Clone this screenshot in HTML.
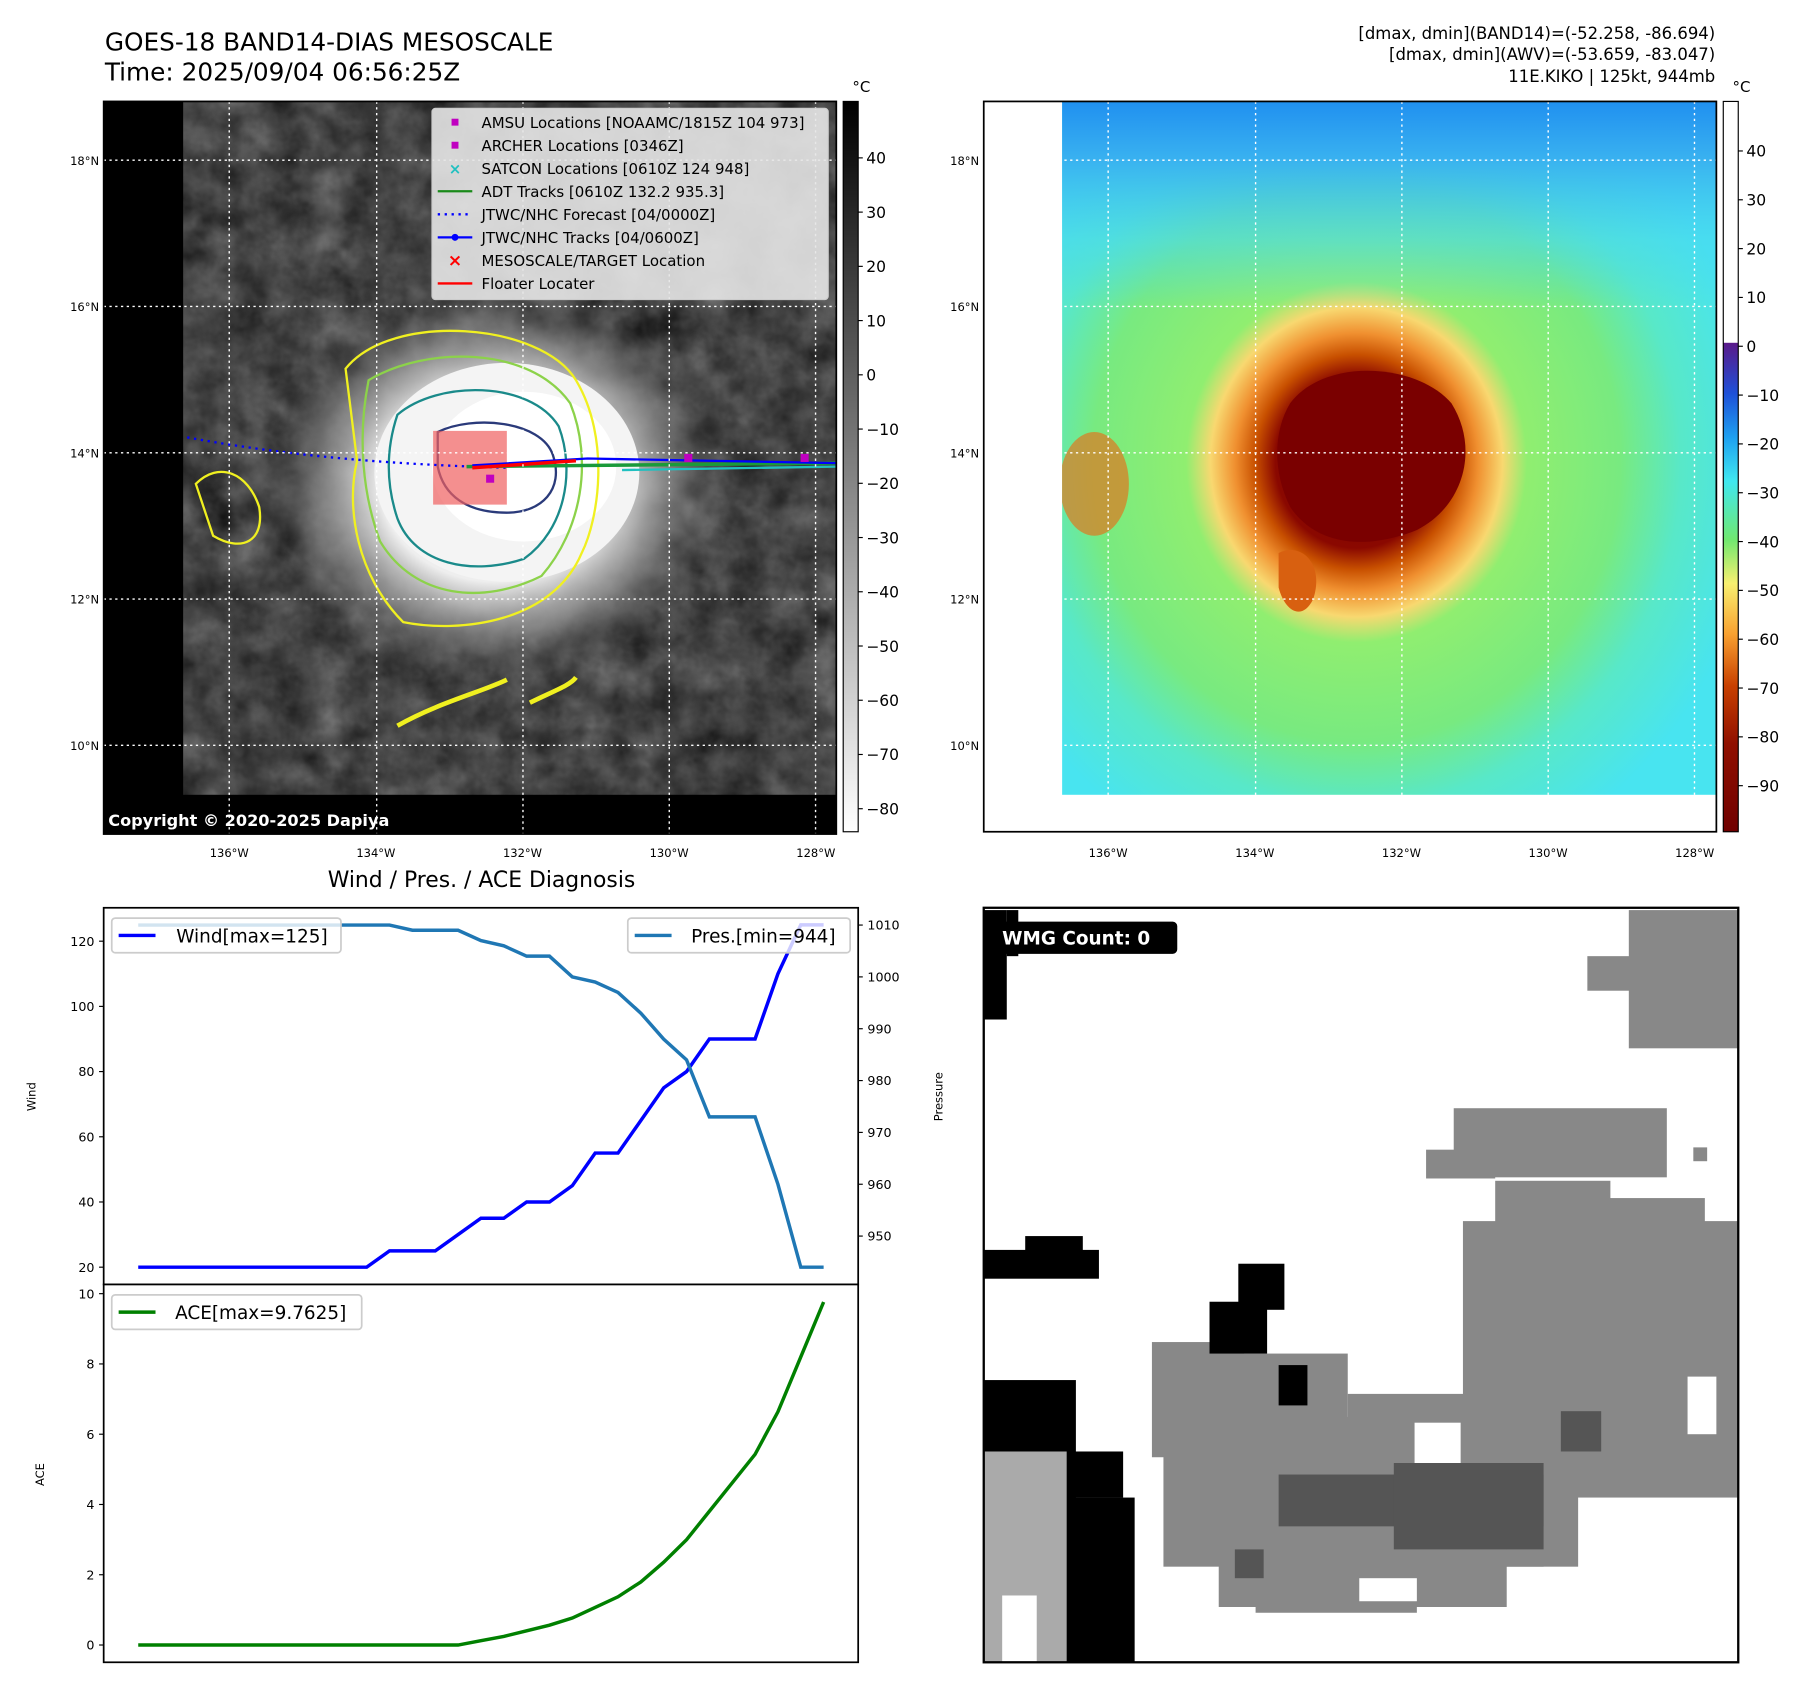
<!DOCTYPE html>
<html><head><meta charset="utf-8"><style>
html,body{margin:0;padding:0;background:#fff;}
svg{display:block;font-family:"DejaVu Sans","Liberation Sans",sans-serif;}
</style></head><body>
<svg id="root" width="1797" height="1690" viewBox="0 0 1560 1467" xmlns="http://www.w3.org/2000/svg">
<defs>
<filter id="clouds" x="0" y="0" width="1" height="1" color-interpolation-filters="sRGB">
<feTurbulence type="fractalNoise" baseFrequency="0.03" numOctaves="4" seed="3"/>
<feColorMatrix type="matrix" values="0.33 0.33 0.33 0 0  0.33 0.33 0.33 0 0  0.33 0.33 0.33 0 0  0 0 0 0 1"/>
<feComponentTransfer><feFuncR type="linear" slope="0.7" intercept="-0.08"/><feFuncG type="linear" slope="0.7" intercept="-0.08"/><feFuncB type="linear" slope="0.7" intercept="-0.08"/></feComponentTransfer>
</filter>
<radialGradient id="storm" cx="0.5" cy="0.5" r="0.5">
<stop offset="0" stop-color="#fff"/><stop offset="0.5" stop-color="#eee"/><stop offset="0.75" stop-color="#999" stop-opacity="0.7"/><stop offset="1" stop-color="#555" stop-opacity="0"/>
</radialGradient>
<linearGradient id="cbGray" x1="0" y1="0" x2="0" y2="1"><stop offset="0" stop-color="#000"/><stop offset="1" stop-color="#fff"/></linearGradient>
<linearGradient id="cbColor" x1="0" y1="0" x2="0" y2="1">
<stop offset="0" stop-color="#fff"/><stop offset="0.33" stop-color="#fff"/><stop offset="0.331" stop-color="#5a1a8a"/>
<stop offset="0.4" stop-color="#1e50d8"/><stop offset="0.46" stop-color="#1ea0f0"/><stop offset="0.52" stop-color="#40e8f0"/>
<stop offset="0.6" stop-color="#70e870"/><stop offset="0.66" stop-color="#f8f070"/><stop offset="0.73" stop-color="#f8a030"/>
<stop offset="0.8" stop-color="#c84000"/><stop offset="0.88" stop-color="#901000"/><stop offset="1" stop-color="#700000"/>
</linearGradient>
<radialGradient id="ir" cx="0.45" cy="0.52" r="0.62">
<stop offset="0" stop-color="#7a0000"/><stop offset="0.2" stop-color="#8a0800"/><stop offset="0.25" stop-color="#c85000"/>
<stop offset="0.3" stop-color="#f09030"/><stop offset="0.36" stop-color="#f8d870"/><stop offset="0.42" stop-color="#90ee70"/>
<stop offset="0.65" stop-color="#78ea80"/><stop offset="0.8" stop-color="#58e8c8"/><stop offset="1" stop-color="#48e4f0"/>
</radialGradient>
<linearGradient id="irTop" x1="0" y1="0" x2="0" y2="1"><stop offset="0" stop-color="#2090f0"/><stop offset="0.08" stop-color="#38b0f0"/><stop offset="0.2" stop-color="#48d8f0" stop-opacity="0.6"/><stop offset="0.3" stop-color="#48d8f0" stop-opacity="0"/></linearGradient>
<clipPath id="clipL"><rect x="159" y="88" width="567" height="602"/></clipPath>
<clipPath id="clipR"><rect x="922" y="88" width="568" height="602"/></clipPath>
</defs>

<text x="91" y="44" font-size="21.5">GOES-18 BAND14-DIAS MESOSCALE</text>
<text x="91" y="70" font-size="21.5">Time: 2025/09/04 06:56:25Z</text>
<g font-size="14.3" text-anchor="end">
<text x="1489" y="34">[dmax, dmin](BAND14)=(-52.258, -86.694)</text>
<text x="1489" y="52">[dmax, dmin](AWV)=(-53.659, -83.047)</text>
<text x="1489" y="71">11E.KIKO | 125kt, 944mb</text>
</g>

<g>
<rect x="90" y="88" width="636" height="636" fill="#000"/>
<g clip-path="url(#clipL)">
<rect x="159" y="88" width="567" height="602" filter="url(#clouds)"/>
<ellipse cx="430" cy="420" rx="200" ry="170" fill="url(#storm)"/>
<ellipse cx="440" cy="410" rx="115" ry="95" fill="#f4f4f4"/>
<ellipse cx="455" cy="405" rx="80" ry="65" fill="#fff"/>
<g fill="none" stroke-width="2">
<path d="M300,320 C340,270 470,280 500,330 C530,380 520,450 505,480 C480,540 400,550 350,540 C310,500 300,440 310,400 Z" stroke="#f0f020"/>
<path d="M320,330 C370,300 460,300 495,350 C515,400 505,460 470,500 C420,525 360,520 330,470 C315,430 310,380 320,330 Z" stroke="#8cd24a"/>
<path d="M345,360 C380,330 460,330 485,370 C500,410 490,460 455,485 C410,500 360,490 345,450 C335,420 335,390 345,360 Z" stroke="#1a8a8a"/>
<path d="M380,375 C410,360 470,365 480,395 C490,425 470,445 440,445 C405,445 385,430 380,405 Z" stroke="#2a3a7a"/>
<path d="M170,420 C190,400 215,410 225,440 C230,470 210,480 185,465 Z" stroke="#f0f020"/>
<path d="M345,630 C380,610 420,600 440,590" stroke="#f0f020" stroke-width="4"/>
<path d="M460,610 C480,600 495,595 500,588" stroke="#f0f020" stroke-width="4"/>
</g>
<rect x="376" y="374" width="64" height="64" fill="#f06060" opacity="0.7"/>
<path d="M92,365 C200,390 300,402 440,406" stroke="#00f" stroke-width="2" stroke-dasharray="2,4" fill="none"/>
<path d="M405,405 L726,402" stroke="#1a9a3a" stroke-width="3" fill="none"/>
<path d="M540,408 L726,405" stroke="#20c0c0" stroke-width="2" fill="none"/>
<path d="M410,404 L510,398 L726,402" stroke="#00f" stroke-width="2" fill="none"/>
<path d="M410,406 L500,400" stroke="#f00" stroke-width="3" fill="none"/>
<g fill="#c000c0"><rect x="594" y="394" width="7" height="7"/><rect x="695" y="394" width="7" height="7"/><rect x="422" y="412" width="7" height="7"/></g>
</g>
<rect x="90" y="690" width="636" height="34" fill="#000"/>
<g stroke="#fff" stroke-width="1.2" stroke-dasharray="2,3">
<line x1="199" y1="88" x2="199" y2="724"/><line x1="327" y1="88" x2="327" y2="724"/><line x1="454" y1="88" x2="454" y2="724"/><line x1="581" y1="88" x2="581" y2="724"/><line x1="708" y1="88" x2="708" y2="724"/>
<line x1="90" y1="139" x2="726" y2="139"/><line x1="90" y1="266" x2="726" y2="266"/><line x1="90" y1="393" x2="726" y2="393"/><line x1="90" y1="520" x2="726" y2="520"/><line x1="90" y1="647" x2="726" y2="647"/>
</g>
<rect x="90" y="88" width="636" height="636" fill="none" stroke="#000" stroke-width="1.5"/>
<text x="94" y="717" font-size="14" font-weight="bold" fill="#fff">Copyright © 2020-2025 Dapiya</text>
<g font-size="13">
<rect x="375" y="94" width="344" height="166" fill="#e6e6e6" fill-opacity="0.9" stroke="#ccc" rx="3"/>
<rect x="392" y="103" width="6" height="6" fill="#c000c0"/><text x="418" y="111">AMSU Locations [NOAAMC/1815Z 104 973]</text>
<rect x="392" y="123" width="6" height="6" fill="#c000c0"/><text x="418" y="131">ARCHER Locations [0346Z]</text>
<text x="395" y="151" fill="#20c0c0" text-anchor="middle" font-weight="bold">×</text><text x="418" y="151">SATCON Locations [0610Z 124 948]</text>
<line x1="380" y1="166" x2="410" y2="166" stroke="#1a8a1a" stroke-width="2"/><text x="418" y="171">ADT Tracks [0610Z 132.2 935.3]</text>
<line x1="380" y1="186" x2="410" y2="186" stroke="#00f" stroke-width="2" stroke-dasharray="2,4"/><text x="418" y="191">JTWC/NHC Forecast [04/0000Z]</text>
<line x1="380" y1="206" x2="410" y2="206" stroke="#00f" stroke-width="2"/><circle cx="395" cy="206" r="3" fill="#00f"/><text x="418" y="211">JTWC/NHC Tracks [04/0600Z]</text>
<text x="395" y="231" fill="#f00" text-anchor="middle" font-weight="bold" font-size="15">×</text><text x="418" y="231">MESOSCALE/TARGET Location</text>
<line x1="380" y1="246" x2="410" y2="246" stroke="#f00" stroke-width="2"/><text x="418" y="251">Floater Locater</text>
</g>
<rect x="732" y="88" width="13" height="634" fill="url(#cbGray)" stroke="#000"/>
<text x="740" y="80" font-size="13">°C</text>
<g id="cbLabels" font-size="13.5"></g>
</g>

<g>
<rect x="854" y="88" width="636" height="634" fill="#fff"/>
<g clip-path="url(#clipR)">
<rect x="922" y="88" width="568" height="602" fill="url(#ir)"/>
<rect x="922" y="88" width="568" height="602" fill="url(#irTop)"/>
<path d="M1120,350 C1150,310 1230,315 1260,350 C1285,390 1270,440 1230,460 C1180,480 1140,470 1120,440 C1105,410 1105,375 1120,350 Z" fill="#7a0000"/>
<path d="M1110,480 C1130,470 1150,490 1140,520 C1130,540 1115,530 1110,510 Z" fill="#d86010"/>
<ellipse cx="950" cy="420" rx="30" ry="45" fill="#e07820" opacity="0.7"/>
</g>
<g stroke="#fff" stroke-width="1.2" stroke-dasharray="2,3">
<line x1="962" y1="88" x2="962" y2="722"/><line x1="1090" y1="88" x2="1090" y2="722"/><line x1="1217" y1="88" x2="1217" y2="722"/><line x1="1344" y1="88" x2="1344" y2="722"/><line x1="1471" y1="88" x2="1471" y2="722"/>
<line x1="854" y1="139" x2="1490" y2="139"/><line x1="854" y1="266" x2="1490" y2="266"/><line x1="854" y1="393" x2="1490" y2="393"/><line x1="854" y1="520" x2="1490" y2="520"/><line x1="854" y1="647" x2="1490" y2="647"/>
</g>
<rect x="854" y="88" width="636" height="634" fill="none" stroke="#000" stroke-width="1.5"/>
<rect x="1496" y="88" width="13" height="634" fill="url(#cbColor)" stroke="#000"/>
<text x="1504" y="80" font-size="13">°C</text>
<g id="cbLabels2" font-size="13.5"></g>
</g>
<g id="mapTicks" font-size="10"></g>

<text x="418" y="770" font-size="19" text-anchor="middle">Wind / Pres. / ACE Diagnosis</text>
<g id="chart"></g>

<g>
<rect x="854" y="788" width="655" height="655" fill="#fff"/>
<g fill="#888">
<rect x="1414" y="790" width="95" height="120"/><rect x="1378" y="830" width="40" height="30"/>
<rect x="1238" y="998" width="60" height="25"/><rect x="1262" y="962" width="185" height="60"/><rect x="1470" y="996" width="12" height="12"/>
<rect x="1298" y="1025" width="100" height="80"/><rect x="1310" y="1040" width="170" height="130"/><rect x="1270" y="1060" width="239" height="240"/>
<rect x="1000" y="1165" width="80" height="100"/><rect x="1020" y="1175" width="150" height="180"/><rect x="1010" y="1230" width="330" height="130"/>
<rect x="1170" y="1210" width="200" height="150"/><rect x="1058" y="1340" width="250" height="55"/><rect x="1090" y="1350" width="140" height="50"/>
</g>
<g fill="#fff"><rect x="1465" y="1195" width="25" height="50"/><rect x="1228" y="1235" width="40" height="35"/><rect x="1180" y="1370" width="50" height="20"/></g>
<g fill="#555"><rect x="1110" y="1280" width="230" height="45"/><rect x="1210" y="1270" width="130" height="75"/><rect x="1355" y="1225" width="35" height="35"/><rect x="1072" y="1345" width="25" height="25"/></g>
<g fill="#000">
<rect x="854" y="790" width="20" height="95"/><rect x="874" y="790" width="10" height="40"/>
<rect x="854" y="1085" width="100" height="25"/><rect x="890" y="1073" width="50" height="36"/>
<rect x="1075" y="1097" width="40" height="40"/><rect x="1050" y="1130" width="50" height="45"/><rect x="1110" y="1185" width="25" height="35"/>
<rect x="854" y="1198" width="80" height="245"/><rect x="925" y="1260" width="50" height="40"/><rect x="900" y="1300" width="85" height="143"/>
</g>
<g fill="#aaa"><rect x="854" y="1260" width="72" height="183"/></g>
<g fill="#fff"><rect x="870" y="1385" width="30" height="58"/></g>
<rect x="854" y="788" width="655" height="655" fill="none" stroke="#000" stroke-width="2"/>
<rect x="862" y="800" width="160" height="28" rx="4" fill="#000"/>
<text x="870" y="820" font-size="16" font-weight="bold" fill="#fff">WMG Count: 0</text>
</g>
</svg>
<script>
const windVals=[20,20,20,20,20,20,20,20,20,20,20,25,25,25,30,35,35,40,40,45,55,55,65,75,80,90,90,90,110,125,125];
const presVals=[1010,1010,1010,1010,1010,1010,1010,1010,1010,1010,1010,1010,1009,1009,1009,1007,1006,1004,1004,1000,999,997,993,988,984,973,973,973,960,944,944];
const aceVals=[0,0,0,0,0,0,0,0,0,0,0,0,0,0,0,0.1225,0.245,0.405,0.565,0.7675,1.07,1.3725,1.795,2.3575,2.9975,3.8075,4.6175,5.4275,6.6375,8.2,9.7625];
const windTicks=[20,40,60,80,100,120];
const presTicks=[950,960,970,980,990,1000,1010];
const aceTicks=[0,2,4,6,8,10];
const cbGrayTicks=[40,30,20,10,0,-10,-20,-30,-40,-50,-60,-70,-80];
const cbColorTicks=[40,30,20,10,0,-10,-20,-30,-40,-50,-60,-70,-80,-90];
const latTicks=['18°N','16°N','14°N','12°N','10°N'];
const lonTicks=['136°W','134°W','132°W','130°W','128°W'];

const NS='http://www.w3.org/2000/svg';
function mk(tag,attrs,parent,txt){const e=document.createElementNS(NS,tag);for(const k in attrs)e.setAttribute(k,attrs[k]);if(txt!==undefined)e.textContent=txt;parent.appendChild(e);return e;}
const X0=120,X1=715;
function xs(i){return X0+(X1-X0)*i/(windVals.length-1);}
function yW(v){return 1100-(v-20)*(1100-817)/100;}
function yP(p){return 1073-(p-950)*(1073-803)/60;}
function yA(a){return 1428-a*(1428-1123)/10;}
function yCbG(t){return 137+(40-t)*(702-137)/120;}
function yCbC(t){return 131+(40-t)*(682-131)/130;}

const cb1=document.getElementById('cbLabels');
cbGrayTicks.forEach(t=>{const y=yCbG(t);mk('line',{x1:745,y1:y,x2:749,y2:y,stroke:'#000'},cb1);const e=mk('text',{x:752,y:y+5},cb1,t<0?'\u2212'+(-t):String(t));

});
const cb2=document.getElementById('cbLabels2');
cbColorTicks.forEach(t=>{const y=yCbC(t);mk('line',{x1:1509,y1:y,x2:1513,y2:y,stroke:'#000'},cb2);const e=mk('text',{x:1516,y:y+5},cb2,t<0?'\u2212'+(-t):String(t));

});
const mt=document.getElementById('mapTicks');
latTicks.forEach((l,i)=>{const y=139+i*127;[86,850].forEach(x=>{const e=mk('text',{x:x,y:y+4,'text-anchor':'end'},mt,l);

});});
lonTicks.forEach((l,i)=>{[199,962].forEach(x0=>{const e=mk('text',{x:x0+i*127.3,y:744,'text-anchor':'middle'},mt,l);

});});

const g=document.getElementById('chart');
mk('rect',{x:90,y:788,width:655,height:327,fill:'#fff',stroke:'#000','stroke-width':1.5},g);
mk('rect',{x:90,y:1115,width:655,height:328,fill:'#fff',stroke:'#000','stroke-width':1.5},g);
windTicks.forEach(t=>{const y=yW(t);mk('line',{x1:86,y1:y,x2:90,y2:y,stroke:'#000'},g);const e=mk('text',{x:82,y:y+4,'font-size':11,'text-anchor':'end'},g,String(t));

});
presTicks.forEach(t=>{const y=yP(t);mk('line',{x1:745,y1:y,x2:749,y2:y,stroke:'#000'},g);const e=mk('text',{x:753,y:y+4,'font-size':11},g,String(t));

});
aceTicks.forEach(t=>{const y=yA(t);mk('line',{x1:86,y1:y,x2:90,y2:y,stroke:'#000'},g);const e=mk('text',{x:82,y:y+4,'font-size':11,'text-anchor':'end'},g,String(t));

});
let t1=mk('text',{x:31,y:952,'font-size':10,'text-anchor':'middle',transform:'rotate(-90 31 952)'},g,'Wind');


let t2=mk('text',{x:818,y:952,'font-size':10,'text-anchor':'middle',transform:'rotate(-90 818 952)'},g,'Pressure');


let t3=mk('text',{x:38,y:1280,'font-size':10,'text-anchor':'middle',transform:'rotate(-90 38 1280)'},g,'ACE');


const pw=windVals.map((v,i)=>xs(i)+','+yW(v)).join(' ');
const pp=presVals.map((v,i)=>xs(i)+','+yP(v)).join(' ');
const pa=aceVals.map((v,i)=>xs(i)+','+yA(v)).join(' ');
let l1=mk('polyline',{points:pw,fill:'none',stroke:'#0000ff','stroke-width':3},g);


let l2=mk('polyline',{points:pp,fill:'none',stroke:'#1f77b4','stroke-width':3},g);


let l3=mk('polyline',{points:pa,fill:'none',stroke:'#008000','stroke-width':3},g);


let lg1=mk('g',{},g);


mk('rect',{x:97,y:797,width:199,height:30,rx:3,fill:'#fff','fill-opacity':0.8,stroke:'#ccc','stroke-width':1.5},lg1);
mk('line',{x1:103,y1:812,x2:135,y2:812,stroke:'#0000ff','stroke-width':3},lg1);
mk('text',{x:153,y:818,'font-size':16},lg1,'Wind[max=125]');
let lg2=mk('g',{},g);


mk('rect',{x:545,y:797,width:193,height:30,rx:3,fill:'#fff','fill-opacity':0.8,stroke:'#ccc','stroke-width':1.5},lg2);
mk('line',{x1:551,y1:812,x2:583,y2:812,stroke:'#1f77b4','stroke-width':3},lg2);
mk('text',{x:600,y:818,'font-size':16},lg2,'Pres.[min=944]');
let lg3=mk('g',{},g);


mk('rect',{x:97,y:1124,width:217,height:30,rx:3,fill:'#fff','fill-opacity':0.8,stroke:'#ccc','stroke-width':1.5},lg3);
mk('line',{x1:103,y1:1139,x2:135,y2:1139,stroke:'#008000','stroke-width':3},lg3);
mk('text',{x:152,y:1145,'font-size':16},lg3,'ACE[max=9.7625]');
</script>
</body></html>
